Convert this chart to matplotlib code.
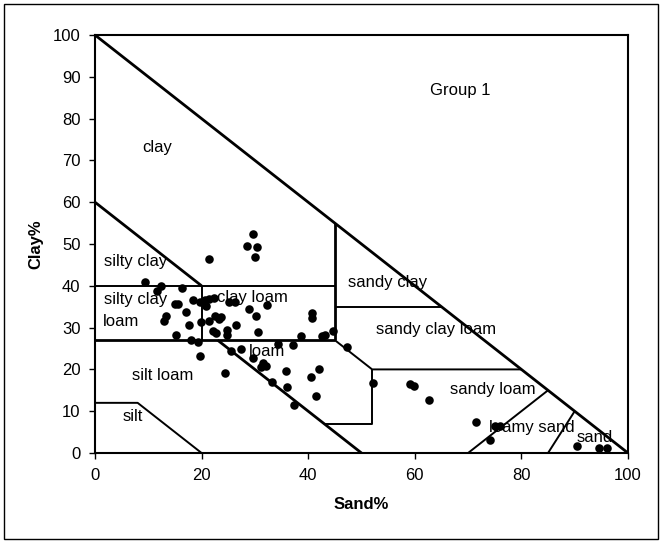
import matplotlib
matplotlib.use("Agg")
import matplotlib.pyplot as plt
from matplotlib.patches import Rectangle

plt.rcParams['font.family'] = ['Liberation Sans', 'DejaVu Sans']

sand = [9.4, 11.6, 12.4, 16.4, 15.0, 15.6, 13.4, 12.9, 17.0, 17.7, 15.2, 18.4, 19.7, 20.6,
        21.3, 22.3, 20.8, 19.8, 21.3, 22.5, 23.3, 23.6, 22.2, 22.7, 24.8, 24.8, 26.5, 25.2,
        26.3, 28.9, 30.2, 32.2, 30.5, 18.1, 19.4, 19.7, 24.4, 25.5, 27.4, 29.7, 31.6, 32.1,
        31.1, 33.3, 35.8, 34.3, 21.4, 28.5, 29.7, 30.4, 30.1, 40.8, 40.7, 38.6, 42.5, 43.2,
        44.7, 37.2, 47.3, 40.5, 42.1, 36.1, 41.5, 37.3, 52.1, 59.1, 59.8, 62.7, 71.5, 75.0,
        76.0, 74.1, 90.5, 94.5, 96.0]
clay = [41.0, 38.8, 40.0, 39.5, 35.6, 35.6, 32.8, 31.6, 33.8, 30.7, 28.2, 36.6, 36.2, 36.6,
        36.8, 37.2, 35.2, 31.4, 31.6, 32.8, 32.0, 32.5, 29.3, 28.6, 28.2, 29.4, 30.6, 36.2,
        36.2, 34.4, 32.8, 35.4, 29.0, 27.0, 26.5, 23.2, 19.1, 24.4, 24.8, 22.7, 21.6, 20.8,
        20.5, 17.1, 19.7, 26.0, 46.4, 49.5, 52.3, 49.3, 46.8, 33.6, 32.2, 28.1, 28.1, 28.3,
        29.3, 25.8, 25.3, 18.3, 20.0, 15.9, 13.6, 11.6, 16.8, 16.5, 16.0, 12.7, 7.3, 6.5,
        6.5, 3.1, 1.7, 1.3, 1.3]

# texture class boundaries (sand%, clay%)
thick_lines = [
    ([0, 100], [100, 0]),
    ([0, 20], [60, 40]),
    ([0, 45], [27, 27]),
    ([23, 50], [27, 0]),
    ([45, 45], [27, 55]),
]
thin_lines = [
    ([0, 45], [40, 40]),
    ([20, 20], [27, 40]),
    ([45, 65], [35, 35]),
    ([45, 52, 80], [27, 20, 20]),
    ([52, 52, 43], [20, 7, 7]),
    ([0, 8, 20], [12, 12, 0]),
    ([70, 85], [0, 15]),
    ([85, 90], [0, 10]),
]
labels = [
    ("clay", 11.7, 73), ("silty clay", 7.7, 45.8), ("silty clay", 7.7, 36.7),
    ("loam", 4.9, 31.5), ("clay loam", 29.5, 37.1), ("sandy clay", 54.8, 40.7),
    ("sandy clay loam", 63.9, 29.6), ("loam", 32.3, 24.3), ("silt loam", 12.7, 18.6),
    ("sandy loam", 74.7, 15.1), ("silt", 7.0, 8.7), ("loamy sand", 81.9, 6.0),
    ("sand", 93.7, 3.7), ("Group 1", 68.5, 86.8),
]

FS = 12
fig = plt.figure(figsize=(6.62, 5.42), dpi=100)
ax = fig.add_axes([0.1435, 0.1642, 0.8051, 0.7712])

for xs, ys in thick_lines:
    ax.plot(xs, ys, color='black', lw=2.0, solid_capstyle='butt', zorder=2)
for xs, ys in thin_lines:
    ax.plot(xs, ys, color='black', lw=1.4, solid_capstyle='butt', zorder=2)

ax.scatter(sand, clay, s=38, color='black', zorder=4, linewidths=0)

for t, x, y in labels:
    ax.text(x, y, t, ha='center', va='center', fontsize=FS, zorder=3)

ax.set_xlim(0, 100)
ax.set_ylim(0, 100)
ax.set_xticks(range(0, 101, 20))
ax.set_yticks(range(0, 101, 10))
ax.tick_params(direction='out', length=4, width=1, labelsize=FS, colors='black')
ax.tick_params(axis='x', pad=7)
ax.tick_params(axis='y', pad=6.5)
for sp in ax.spines.values():
    sp.set_linewidth(1.5)
ax.set_xlabel("Sand%", fontsize=FS, fontweight='bold', labelpad=10)
ax.set_ylabel("Clay%", fontsize=FS, fontweight='bold', labelpad=7)

fig.patches.append(Rectangle((0.0053, 0.0055), 0.9887, 0.987, transform=fig.transFigure,
                             fill=False, edgecolor='black', lw=1.0))

fig.savefig("out.png", dpi=100)
